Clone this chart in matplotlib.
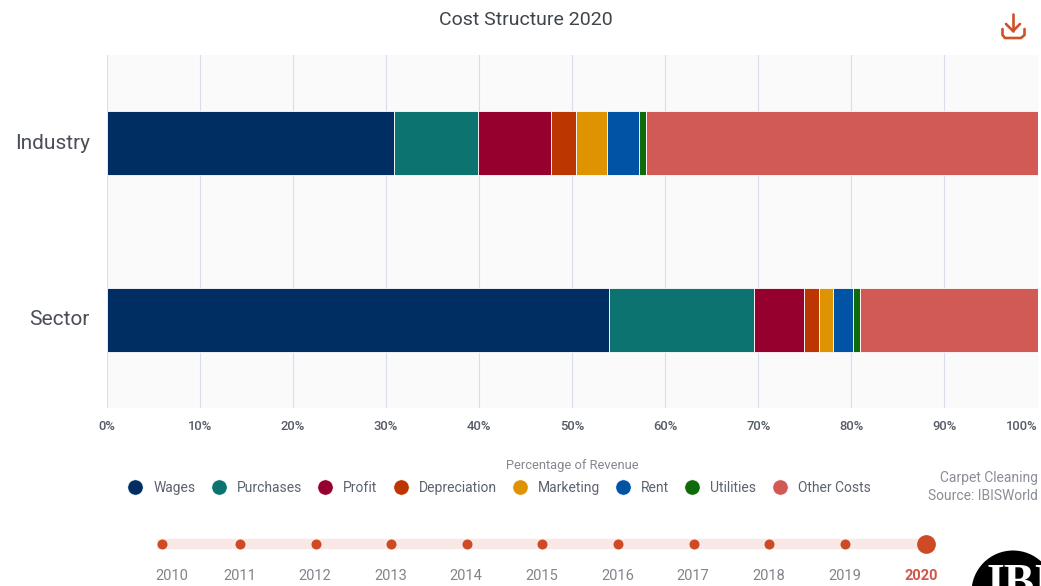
import matplotlib
matplotlib.use("Agg")
import matplotlib.pyplot as plt
from matplotlib.lines import Line2D
from matplotlib.patches import Circle
from matplotlib.transforms import ScaledTranslation, offset_copy

W, H = 1041, 586

groups = ["Sector", "Industry"]
costs = ["Wages", "Purchases", "Profit", "Depreciation", "Marketing", "Rent", "Utilities", "Other Costs"]
industry = [30.9, 9.0, 7.85, 2.65, 3.4, 3.45, 0.65, 42.1]
sector = [54.0, 15.5, 5.4, 1.6, 1.5, 2.2, 0.7, 19.1]
colors = ["#002d62", "#0c7370", "#96002e", "#bb3600", "#de9400", "#0053a5", "#0f6a0c", "#d25a55"]
pct_ticks = [0, 10, 20, 30, 40, 50, 60, 70, 80, 90, 100]
years = [2010, 2011, 2012, 2013, 2014, 2015, 2016, 2017, 2018, 2019, 2020]

plt.rcParams["font.family"] = ["Roboto", "DejaVu Sans"]


def px_axes(left, top, right, bottom, **kw):
    # axes placed by pixel box, y counted from the top of the figure
    return fig.add_axes([left / W, 1 - bottom / H, (right - left) / W, (bottom - top) / H], **kw)


fig = plt.figure(figsize=(W / 100, H / 100), dpi=100, facecolor="white")

# stacked bars
ax = px_axes(106.5, 55, 1037.5, 408, facecolor="#fafafb")
ax.set_xlim(0, 100)
ax.set_ylim(-0.5, 1.5)
left = [0, 0]
handles = []
for i, name in enumerate(costs):
    vals = [sector[i], industry[i]]
    ax.barh(groups, vals, left=left, height=0.362, color=colors[i], edgecolor="#ffffff",
            linewidth=0.6, zorder=3)
    left = [left[0] + vals[0], left[1] + vals[1]]
    handles.append(Line2D([], [], linestyle="none", marker="o", markersize=11,
                          markerfacecolor=colors[i], markeredgecolor="white",
                          markeredgewidth=0.4, label=name))

ax.set_xticks(pct_ticks)
ax.set_xticklabels([str(p) + "%" for p in pct_ticks], fontsize=9.4, fontweight="medium", color="#555c66")
ax.get_xticklabels()[-1].set_horizontalalignment("right")
ax.tick_params(axis="x", length=0, pad=8.5)
ax.tick_params(axis="y", length=0, pad=12, labelsize=15, labelcolor="#4a4f57")
for label in ax.get_yticklabels():
    label.set_transform(label.get_transform() + ScaledTranslation(0, 1.6 / 72, fig.dpi_scale_trans))
ax.grid(True, axis="x", color="#d8dcec", linewidth=0.8, zorder=0)
ax.set_axisbelow(True)
for s in ax.spines.values():
    s.set_visible(False)

fig.text(526 / W, 1 - 20 / H, "Cost Structure 2020", ha="center", va="center", fontsize=14, color="#40454c")
fig.text(572.5 / W, 1 - 465 / H, "Percentage of Revenue", ha="center", va="center", fontsize=9.25,
         color="#83878f")
fig.text(1038 / W, 1 - 478 / H, "Carpet Cleaning", ha="right", va="center", fontsize=10, color="#8a8e96")
fig.text(1038 / W, 1 - 496 / H, "Source: IBISWorld", ha="right", va="center", fontsize=10, color="#8a8e96")

fig.legend(handles=handles, loc="center", bbox_to_anchor=(499.5 / W, 1 - 488 / H), ncol=8, frameon=False,
           fontsize=10, labelcolor="#5b6270", handlelength=1, handletextpad=0.8, columnspacing=1.16, borderpad=0)

# year slider
tl = px_axes(157, 530, 931, 557)
tl.set_xlim(2009.902, 2020.14)
tl.set_ylim(-1, 1)
tl.axis("off")
tl.axhspan(-0.33, 0.33, color="#fae8e6", zorder=1)
tl.plot(years[1:-1], [0] * 9, "o", color="#cc4b24", markersize=7.2, markeredgewidth=0, zorder=2)
tl.plot(years[0], 0, "o", color="#cc4b24", markersize=7.2, markeredgewidth=0, zorder=2, clip_on=False,
        transform=offset_copy(tl.transData, fig=fig, x=-2.4, units="dots"))
tl.plot(years[-1], 0, "o", color="#cc4b24", markersize=13.5, markeredgewidth=0, zorder=2, clip_on=False,
        transform=offset_copy(tl.transData, fig=fig, x=5.4, units="dots"))
for y in years:
    nudge = {2010: 7.6, 2020: 1}.get(y, -0.5)
    last = y == years[-1]
    tl.annotate(str(y), (y, 0), xytext=(nudge * 0.72, -32.5 * 0.72), textcoords="offset points",
                ha="center", va="center", fontsize=10.5, annotation_clip=False,
                fontweight="bold" if last else "normal", color="#d0554a" if last else "#80848b")

# download icon and logo, drawn in figure pixels
over = px_axes(0, 0, W, H, facecolor="none")
over.set_xlim(0, W)
over.set_ylim(H, 0)
over.axis("off")
icon = "#d0502a"
over.plot([1013, 1013], [14, 31], color=icon, lw=1.9, solid_capstyle="round")
over.plot([1006, 1013, 1020], [24, 31, 24], color=icon, lw=1.9, solid_capstyle="round", solid_joinstyle="round")
over.plot([1002.5, 1002.5, 1005, 1021, 1024.5, 1024.5], [29, 35, 38, 38, 35, 29], color=icon, lw=1.9,
          solid_capstyle="round", solid_joinstyle="round")
over.add_patch(Circle((1013, 592), 41.5, color="black", lw=0))
over.text(987, 596, "IBI", family="Liberation Serif", fontsize=33, fontweight="bold", color="white", ha="left",
          va="baseline", clip_on=True)

fig.savefig("out.png", dpi=100)
plt.close(fig)
